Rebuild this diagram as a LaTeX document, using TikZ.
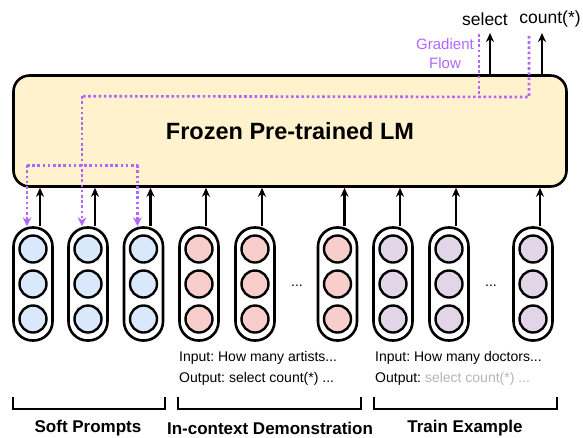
\documentclass[tikz,border=0pt]{standalone}
\usepackage{fontspec}
\setmainfont{Liberation Sans}
\frenchspacing
\usetikzlibrary{arrows.meta,calc}
\definecolor{lmfill}{HTML}{FFF2CC}
\definecolor{bluef}{HTML}{DAE8FC}
\definecolor{pinkf}{HTML}{F8CECC}
\definecolor{purpf}{HTML}{E1D5E7}
\definecolor{gradc}{RGB}{178,102,255}
\definecolor{grayt}{RGB}{180,180,180}
\tikzset{
  capsule/.style={draw, line width=2.6pt, fill=white, rounded corners=19pt, minimum width=39pt, minimum height=113pt, inner sep=0pt},
  unit/.style={draw, line width=2.4pt, circle, minimum size=27pt, inner sep=0pt, fill=#1},
  uparrow/.style={line width=2.4pt, -{Stealth[length=9pt,width=8pt]}},
  gradline/.style={gradc, line width=2.6pt, dash pattern=on 2.6pt off 2.6pt},
  gradarrow/.style={gradline, -{Stealth[length=9pt,width=9pt,line width=0pt]}},
  bracket/.style={line width=2.4pt},
  smalltxt/.style={font=\fontsize{14}{16}\selectfont, anchor=west, inner sep=0pt},
  grouplabel/.style={font=\fontsize{17}{19}\selectfont\bfseries, inner sep=0pt},
}
\begin{document}
\begin{tikzpicture}[x=1pt,y=-1pt]
\useasboundingbox (0,0) rectangle (583,437);
% main box
\node[draw, line width=2.6pt, fill=lmfill, rounded corners=16pt, minimum width=553pt, minimum height=111pt, inner sep=0pt] (lm) at (290,131) {};
\node[font=\fontsize{23.5}{26}\selectfont\bfseries] (lmtext) at (290,131) {Frozen Pre-trained LM};
% columns
\foreach \name/\x/\col in {c1/33/bluef, c2/88/bluef, c3/143.5/bluef, c4/199/pinkf, c5/255/pinkf, c6/337.5/pinkf, c7/393/purpf, c8/449/purpf, c9/533/purpf}{
  \node[capsule] (\name) at (\x,284) {};
  \node[unit=\col] (\name a) at (\x,249) {};
  \node[unit=\col] (\name b) at (\x,284) {};
  \node[unit=\col] (\name c) at (\x,319) {};
  \coordinate (\name up) at ($(\name.north)+(7,0)$);
  \draw[uparrow] (\name up) -- (\name up |- lm.south);
}
\node[font=\fontsize{14}{16}\selectfont] (dots1) at (297,286) {...};
\node[font=\fontsize{14}{16}\selectfont] (dots2) at (491,286) {...};
% gradient flow
\coordinate (g1) at ($(c1.north)+(-6,-61)$);
\coordinate (g2) at ($(c2.north)+(-6,-61)$);
\coordinate (g3) at ($(c3.north)+(-6,-61)$);
\coordinate (gtop) at ($(c2.north)+(-6,-130)$);
\coordinate (gr1) at (479,97);
\coordinate (gr2) at (529,97);
\coordinate (gr1t) at (479,34);
\coordinate (gr2t) at (529,36);
\draw[gradline] (gr1t) -- (gr1);
\draw[gradline] (gr2t) -- (gr2) -- (gtop);
\draw[gradline] (g1) -- (g3);
\draw[gradarrow] (g1) -- ($(c1.north)+(-6,0)$);
\draw[gradarrow] (gtop) -- ($(c2.north)+(-6,0)$);
\draw[gradarrow] (g3) -- ($(c3.north)+(-6,0)$);
\node[gradc, font=\fontsize{15}{19}\selectfont, align=center, inner sep=0pt] (gflow) at (445,53.5) {Gradient\\Flow};
% outputs
\node[font=\fontsize{17.5}{19}\selectfont, inner sep=0pt] (sel) at (485,19) {select};
\node[font=\fontsize{17.5}{19}\selectfont, inner sep=0pt] (cnt) at (550,19) {count(*)};
\coordinate (o1) at (490,33);
\coordinate (o2) at (542,33);
\draw[uparrow] (lm.north -| o1) -- (o1);
\draw[uparrow] (lm.north -| o2) -- (o2);
% texts
\node[smalltxt] (in1) at (179,358) {Input: How many artists...};
\node[smalltxt] (out1) at (179,379) {Output: select count(*) ...};
\node[smalltxt] (in2) at (375,358) {Input: How many doctors...};
\node[smalltxt] (out2) at (375,379) {Output: \textcolor{grayt}{select count(*) ...}};
% brackets
\draw[bracket] (13,397) -- (13,409) -- (165,409) -- (165,397);
\draw[bracket] (178,397) -- (178,409) -- (361,409) -- (361,397);
\draw[bracket] (374,397) -- (374,409) -- (557,409) -- (557,397);
\node[grouplabel] (l1) at (88,428) {Soft Prompts};
\node[grouplabel] (l2) at (270,428) {In-context Demonstration};
\node[grouplabel] (l3) at (465,428) {Train Example};
\end{tikzpicture}
\end{document}
